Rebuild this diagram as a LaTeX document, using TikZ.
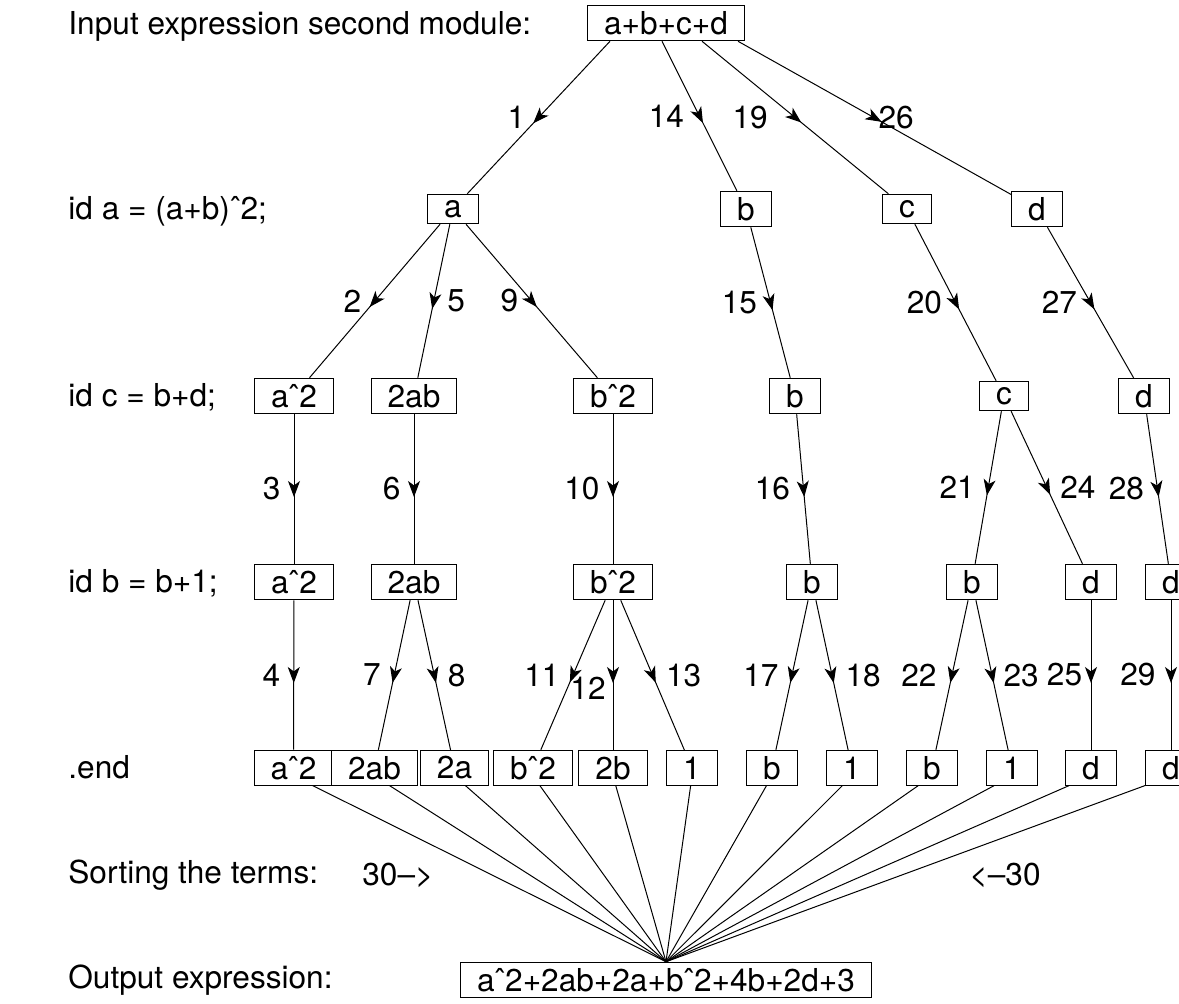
\documentclass[tikz,border=0pt]{standalone}
\usepackage{fontspec}
\setmainfont{TeX Gyre Heros}
\usetikzlibrary{arrows.meta,decorations.markings,backgrounds}
\tikzset{
	term/.style={draw, fill=white, line width=0.5pt, inner xsep=8.3pt, inner ysep=3pt},
	txt/.style={anchor=base west, inner sep=0pt},
	num/.style={inner sep=6.5pt},
	flow/.style={line width=0.5pt, postaction={decorate},
		decoration={markings, mark=at position 0.5 with {\pgftransformxshift{4pt}\arrow{Stealth[length=8pt,width=6pt,inset=2.2pt]}}}},
}
\begin{document}
\begin{tikzpicture}[x=0.5pt, y=-0.5pt, font=\fontsize{15.8}{19}\selectfont]
		\useasboundingbox (0,0) rectangle (1179,1003);
		
		% module steps:
		\node[txt] (lin) at (68,34) {Input expression second module:};
		\node[txt] (lida) at (68,219) {id a = (a+b)ˆ2;};
		\node[txt] (lidc) at (68,406) {id c = b+d;};
		\node[txt] (lidb) at (68,592) {id b = b+1;};
		\node[txt] (lend) at (68,778) {.end};
		\node[txt] (lsort) at (68,883) {Sorting the terms:};
		\node[txt] (lout) at (68,988) {Output expression:};
		\node[txt] (sortl) at (362,885) {30\textendash>};
		\node[txt] (sortr) at (969,885) {<\textendash30};
		
		% input
		\node[term] (expr) at (666,23) {a+b+c+d};
		
		% id a
		\node[term] (a) at (453,209) {a};
		\node[term] (b) at (746,209) {b};
		\node[term] (c) at (907,209) {c};
		\node[term] (d) at (1037,209) {d};
		
		% id c
		\node[term] (aa2) at (294,396) {aˆ2};
		\node[term] (ab2) at (414,396) {2ab};
		\node[term] (bb2) at (613,396) {bˆ2};
		\node[term] (b2) at (795,396) {b};
		\node[term] (c2) at (1004,396) {c};
		\node[term] (d2) at (1144,396) {d};
		
		% id b
		\node[term] (aa3) at (294,582) {aˆ2};
		\node[term] (ab3) at (414,582) {2ab};
		\node[term] (bb3) at (613,582) {bˆ2};
		\node[term] (b3) at (812,582) {b};
		\node[term] (bx3) at (972,582) {b};
		\node[term] (d3) at (1091,582) {d};
		\node[term] (dx3) at (1171,582) {d};
		
		% .end
		\foreach \x/\t [count=\i] in {293.5/aˆ2, 374.5/2ab, 454.5/2a, 533/bˆ2, 613/2b, 692/1,
			772/b, 852/1, 932/b, 1012/1, 1091/d, 1171/d}
		\node[term] (t\i) at (\x,768) {\t};
		
		% output
		\node[term] (out) at (666,980) {aˆ2+2ab+2a+bˆ2+4b+2d+3};
		
		% first level
		\coordinate (sa) at ([xshift=-28pt]expr.south);
		\coordinate (sb) at ([xshift=-2pt]expr.south);
		\coordinate (sc) at ([xshift=18pt]expr.south);
		\coordinate (sd) at ([xshift=36pt]expr.south);
		\draw[flow] (sa) -- node[num,left] {1} (a);
		\draw[flow] (sb) -- node[num,left,xshift=-1pt] {14} (b);
		\draw[flow] (sc) -- node[num,left,xshift=-7pt] {19} (c);
		\draw[flow] (sd) -- node[num,right,inner sep=1.75pt] {26} (d);
		
		% second level
		\draw[flow] (a) -- node[num,left] {2} (aa2);
		\draw[flow] (a) -- node[num,right] {5} (ab2);
		\draw[flow] (a) -- node[num,left] {9} (bb2);
		\draw[flow] (b) -- node[num,left] {15} (b2);
		\draw[flow] (c) -- node[num,left] {20} (c2);
		\draw[flow] (d) -- node[num,left] {27} (d2);
		
		% third level
		\draw[flow] (aa2) -- node[num,left] {3} (aa3);
		\draw[flow] (ab2) -- node[num,left] {6} (ab3);
		\draw[flow] (bb2) -- node[num,left] {10} (bb3);
		\draw[flow] (b2) -- node[num,left] {16} (b3);
		\draw[flow] (c2) -- node[num,left] {21} (bx3);
		\draw[flow] (c2) -- node[num,right] {24} (d3);
		\draw[flow] (d2) -- node[num,left] {28} (dx3);
		
		% fourth level
		\draw[flow] (aa3) -- node[num,left] {4} (t1);
		\draw[flow] (ab3) -- node[num,left] {7} (t2);
		\draw[flow] (ab3) -- node[num,right] {8} (t3);
		\draw[flow] (bb3) -- node[num,left] {11} (t4);
		\draw[flow] (bb3) -- node[xshift=-12.5pt,yshift=-6.5pt] {12} (t5);
		\draw[flow] (bb3) -- node[num,right] {13} (t6);
		\draw[flow] (b3) -- node[num,left] {17} (t7);
		\draw[flow] (b3) -- node[num,right] {18} (t8);
		\draw[flow] (bx3) -- node[num,left,xshift=-1pt] {22} (t9);
		\draw[flow] (bx3) -- node[num,right,xshift=-1pt] {23} (t10);
		\draw[flow] (d3) -- node[num,left,xshift=2.3pt] {25} (t11);
		\draw[flow] (dx3) -- node[num,left,xshift=-1pt] {29} (t12);
		
		% sorting
		\begin{scope}[on background layer]
		\foreach \i in {1,...,12}
		\draw[line width=0.5pt] ([yshift=-4pt]t\i.center) -- (out.north);
		\end{scope}
		
\end{tikzpicture}
\end{document}
